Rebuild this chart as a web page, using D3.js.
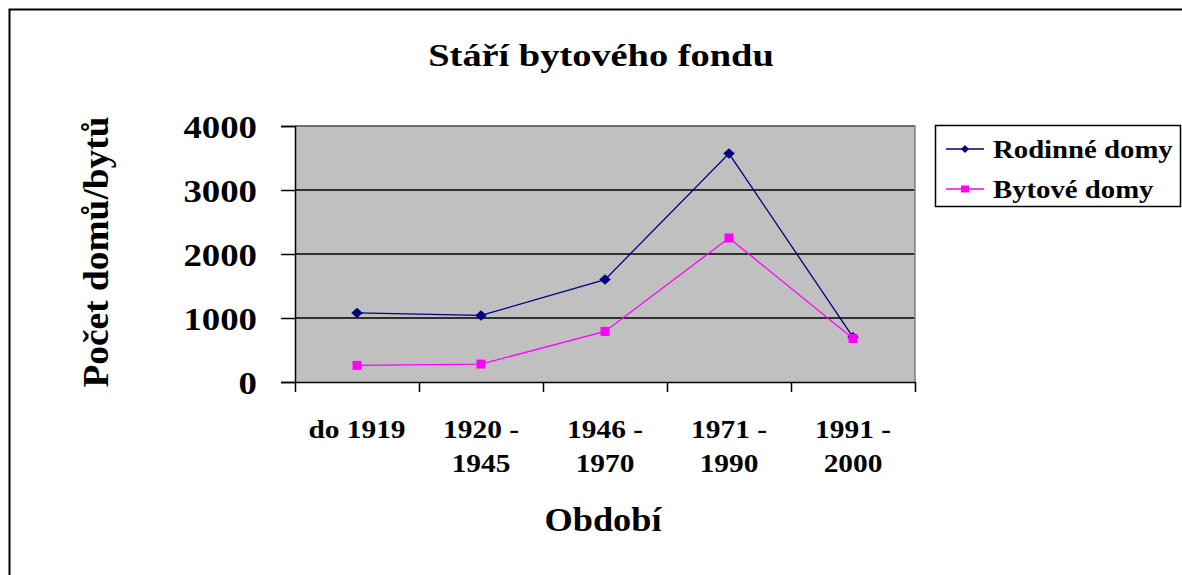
<!DOCTYPE html>
<html><head><meta charset="utf-8">
<script src="https://cdn.jsdelivr.net/npm/d3@7"></script>
<style>body{margin:0;background:#fff}text{font-family:"Liberation Serif","Times New Roman",serif;font-weight:bold;fill:#000}</style>
</head><body>
<svg id="c" width="1182" height="575"></svg>
<script>
const categories = [["do 1919"],["1920 -","1945"],["1946 -","1970"],["1971 -","1990"],["1991 -","2000"]];
const rodinne = [1080, 1040, 1600, 3570, 700];
const bytove = [260, 280, 790, 2250, 680];
const yTicks = [0, 1000, 2000, 3000, 4000];
const seriesNames = ["Rodinné domy", "Bytové domy"];
const title = "Stáří bytového fondu";
const xTitle = "Období";
const yTitle = "Počet domů/bytů";

const svg = d3.select("#c");
svg.append("rect").attr("x",9.5).attr("y",9.5).attr("width",1200).attr("height",600)
  .attr("fill","#fff").attr("stroke","#000").attr("stroke-width",2);

const L=295, R=915, T=126, B=382;
const x = d3.scaleBand().domain(d3.range(categories.length)).range([L,R]);
const y = d3.scaleLinear().domain([0,4000]).range([B,T]);

function stext(g, str, px, py, size, anchor, sx){
  return g.append("text").attr("transform",`translate(${px},${py}) scale(${sx},1)`)
    .attr("text-anchor",anchor||"middle").attr("font-size",size).text(str);
}

svg.append("rect").attr("x",L).attr("y",T).attr("width",R-L).attr("height",B-T).attr("fill","#c0c0c0");
svg.append("g").selectAll("line").data(yTicks.slice(1)).join("line")
  .attr("x1",L).attr("x2",R).attr("y1",d=>y(d)).attr("y2",d=>y(d)).attr("stroke","#000").attr("stroke-width",1.3);
svg.append("path").attr("d",`M${L},${T}H${R}V${B}`).attr("fill","none").attr("stroke","#808080").attr("stroke-width",1.5);

const ya = svg.append("g").attr("transform",`translate(${L},0)`)
  .call(d3.axisLeft(y).tickValues(yTicks).tickSize(14).tickFormat(""));
ya.selectAll("line,path").attr("stroke","#000").attr("stroke-width",1.5);
yTicks.forEach(v=> stext(svg, String(v), 257, y(v)+11.5, 32, "end", 1.15));

const xa = svg.append("g").attr("transform",`translate(0,${B})`)
  .call(d3.axisBottom(d3.scaleLinear().domain([0,categories.length]).range([L,R])).tickValues(d3.range(categories.length+1)).tickSize(10).tickFormat("").tickSizeOuter(0));
xa.selectAll("line,path").attr("stroke","#000").attr("stroke-width",1.5);
categories.forEach((c,i)=>{
  c.forEach((s,j)=> stext(svg, s, x(i)+x.bandwidth()/2, 438+j*34, 26, "middle", 1.13));
});

const line = d3.line().x((d,i)=>x(i)+x.bandwidth()/2).y(d=>y(d));
svg.append("path").datum(rodinne).attr("d",line).attr("fill","none").attr("stroke","#000080").attr("stroke-width",1.3);
svg.append("path").datum(bytove).attr("d",line).attr("fill","none").attr("stroke","#ff00ff").attr("stroke-width",1.3);
svg.append("g").selectAll("path").data(rodinne).join("path")
  .attr("d",d3.symbol(d3.symbolDiamond2,70)())
  .attr("transform",(d,i)=>`translate(${x(i)+x.bandwidth()/2},${y(d)}) scale(1.1,1)`).attr("fill","#000080");
svg.append("g").selectAll("rect").data(bytove).join("rect")
  .attr("x",(d,i)=>x(i)+x.bandwidth()/2-4.5).attr("y",d=>y(d)-4.5).attr("width",9).attr("height",9).attr("fill","#ff00ff");

stext(svg, title, 601, 66, 32, "middle", 1.2);
stext(svg, xTitle, 603, 531, 33, "middle", 1.1);
svg.append("text").attr("transform",`translate(108,252) rotate(-90) scale(1.1,1.05)`).attr("text-anchor","middle").attr("font-size",34).text(yTitle);

svg.append("rect").attr("x",935.5).attr("y",125.5).attr("width",245).attr("height",81).attr("fill","#fff").attr("stroke","#000").attr("stroke-width",1.5);
const lg = [{n:seriesNames[0],c:"#000080",s:"d"},{n:seriesNames[1],c:"#ff00ff",s:"s"}];
lg.forEach((d,i)=>{
  const yy = 149+i*40;
  svg.append("line").attr("x1",946).attr("x2",984).attr("y1",yy).attr("y2",yy).attr("stroke",d.c).attr("stroke-width",1.5);
  if(d.s==="d") svg.append("path").attr("d",d3.symbol(d3.symbolDiamond2,40)()).attr("transform",`translate(965,${yy})`).attr("fill",d.c);
  else svg.append("rect").attr("x",961).attr("y",yy-3.5).attr("width",8).attr("height",7).attr("fill",d.c);
  stext(svg, d.n, 993, yy+8.5, 25, "start", 1.15);
});
</script>
</body></html>
